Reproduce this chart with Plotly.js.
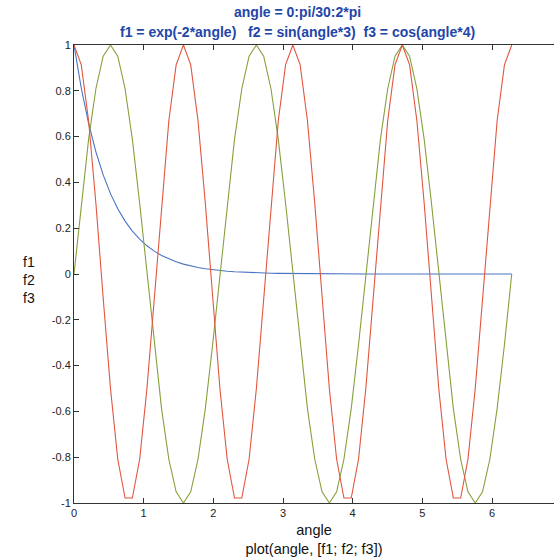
<!DOCTYPE html>
<html>
<head>
<meta charset="utf-8">
<script src="https://cdn.plot.ly/plotly-3.0.1.min.js"></script>
<style>html,body{margin:0;padding:0;background:#fff;overflow:hidden}#chart{width:554px;height:560px}</style>
</head>
<body>
<div id="chart"></div>
<script>
// angle = 0:pi/30:2*pi
var angle = [0,0.1047,0.2094,0.3142,0.4189,0.5236,0.6283,0.7330,0.8378,0.9425,
  1.0472,1.1519,1.2566,1.3614,1.4661,1.5708,1.6755,1.7802,1.8850,1.9897,
  2.0944,2.1991,2.3038,2.4086,2.5133,2.6180,2.7227,2.8274,2.9322,3.0369,
  3.1416,3.2463,3.3510,3.4558,3.5605,3.6652,3.7699,3.8746,3.9794,4.0841,
  4.1888,4.2935,4.3982,4.5029,4.6077,4.7124,4.8171,4.9218,5.0265,5.1313,
  5.2360,5.3407,5.4454,5.5501,5.6549,5.7596,5.8643,5.9690,6.0737,6.1785,6.2832];
// f1 = exp(-2*angle)
var f1 = [1,0.8111,0.6579,0.5336,0.4328,0.3510,0.2847,0.2309,0.1873,0.1519,
  0.1232,0.0999,0.0811,0.0657,0.0533,0.0432,0.0351,0.0284,0.0231,0.0187,
  0.0152,0.0123,0.0100,0.0081,0.0066,0.0053,0.0043,0.0035,0.0028,0.0023,
  0.0019,0.0015,0.0012,0.0010,0.0008,0.0007,0.0005,0.0004,0.0004,0.0003,
  0.0002,0.0002,0.0002,0.0001,0.0001,0.0001,0.0001,0.0001,0,0,
  0,0,0,0,0,0,0,0,0,0,0];
// f2 = sin(angle*3)
var f2 = [0,0.3090,0.5878,0.8090,0.9511,1,0.9511,0.8090,0.5878,0.3090,
  0,-0.3090,-0.5878,-0.8090,-0.9511,-1,-0.9511,-0.8090,-0.5878,-0.3090,
  0,0.3090,0.5878,0.8090,0.9511,1,0.9511,0.8090,0.5878,0.3090,
  0,-0.3090,-0.5878,-0.8090,-0.9511,-1,-0.9511,-0.8090,-0.5878,-0.3090,
  0,0.3090,0.5878,0.8090,0.9511,1,0.9511,0.8090,0.5878,0.3090,
  0,-0.3090,-0.5878,-0.8090,-0.9511,-1,-0.9511,-0.8090,-0.5878,-0.3090,0];
// f3 = cos(angle*4)
var f3 = [1,0.9135,0.6691,0.3090,-0.1045,-0.5,-0.8090,-0.9781,-0.9781,-0.8090,-0.5,-0.1045,0.3090,0.6691,0.9135,
  1,0.9135,0.6691,0.3090,-0.1045,-0.5,-0.8090,-0.9781,-0.9781,-0.8090,-0.5,-0.1045,0.3090,0.6691,0.9135,
  1,0.9135,0.6691,0.3090,-0.1045,-0.5,-0.8090,-0.9781,-0.9781,-0.8090,-0.5,-0.1045,0.3090,0.6691,0.9135,
  1,0.9135,0.6691,0.3090,-0.1045,-0.5,-0.8090,-0.9781,-0.9781,-0.8090,-0.5,-0.1045,0.3090,0.6691,0.9135,1];

var xTicks = [0,1,2,3,4,5,6];
var xTickText = ['0','1','2','3','4','5','6'];
var yTicks = [-1,-0.8,-0.6,-0.4,-0.2,0,0.2,0.4,0.6,0.8,1];
var yTickText = ['-1','-0.8','-0.6','-0.4','-0.2','0','0.2','0.4','0.6','0.8','1'];

var titleLines = ['angle = 0:pi/30:2*pi', 'f1 = exp(-2*angle)   f2 = sin(angle*3)  f3 = cos(angle*4)'];
var xLabel = 'angle<br>plot(angle, [f1; f2; f3])';
var yLabel = 'f1<br>f2<br>f3';

var seriesNames = ['f1','f2','f3'];
var seriesColors = ['#4a74c4','#86a03c','#e2553f'];
var seriesData = [f1,f2,f3];

var traces = seriesData.map(function(d,i){
  return {x: angle, y: d, type:'scatter', mode:'lines', name: seriesNames[i],
    line:{color: seriesColors[i], width:1.1}, hoverinfo:'skip'};
});

var FONT = 'Liberation Sans, Arial, sans-serif';
var tickFont = {family:FONT, size:11, color:'#222'};
var titleFont = {family:FONT, size:14, color:'#2346a8'};
var layout = {
  width:554, height:560,
  margin:{l:74, r:0, t:45, b:57},
  paper_bgcolor:'#fff', plot_bgcolor:'#fff',
  showlegend:false,
  xaxis:{range:[0,6.89], tickvals:xTicks, ticktext:xTickText, ticks:'inside', ticklen:5,
    tickcolor:'#333', showline:true, linecolor:'#333', linewidth:1, mirror:'ticks',
    showgrid:false, zeroline:false, tickfont:tickFont, fixedrange:true,
    title:{text:xLabel, standoff:6, font:{family:FONT, size:14.5, color:'#111'}}},
  yaxis:{range:[-1,1], tickvals:yTicks, ticktext:yTickText, ticks:'inside', ticklen:5,
    tickcolor:'#333', showline:true, linecolor:'#333', linewidth:1, mirror:false,
    showgrid:false, zeroline:false, tickfont:tickFont, fixedrange:true},
  annotations:[
    {text:'<b>'+titleLines[0]+'</b>', xref:'paper', yref:'paper', x:(297-74)/480, y:(503-12)/458,
      xanchor:'center', yanchor:'middle', showarrow:false, font:titleFont},
    {text:'<b>'+titleLines[1]+'</b>', xref:'paper', yref:'paper', x:(297-74)/480, y:(503-32)/458,
      xanchor:'center', yanchor:'middle', showarrow:false, font:titleFont},
    {text:yLabel, xref:'paper', yref:'paper', x:(21-74)/480, y:(503-280)/458,
      xanchor:'left', yanchor:'middle', align:'left', showarrow:false,
      font:{family:FONT, size:14, color:'#111'}}]
};
Plotly.newPlot('chart', traces, layout, {displayModeBar:false, staticPlot:true});
</script>
</body>
</html>
